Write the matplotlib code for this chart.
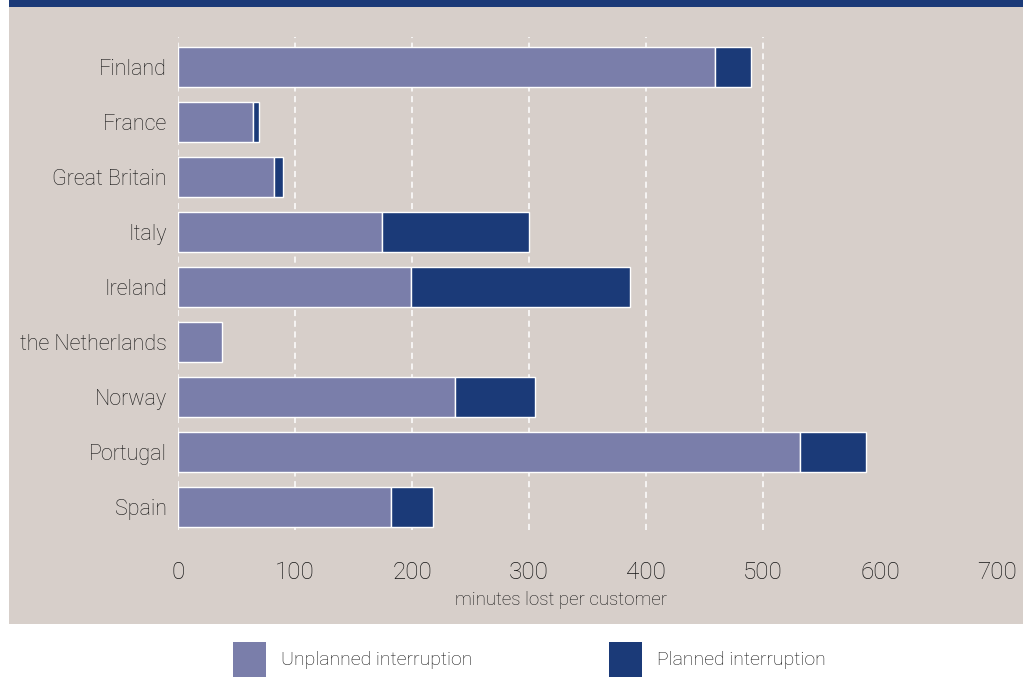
import matplotlib
matplotlib.use("Agg")
import matplotlib.pyplot as plt
from matplotlib.patches import Rectangle
import numpy as np

plt.rcParams["font.family"] = ["Roboto", "DejaVu Sans"]
plt.rcParams["font.weight"] = "light"

countries = ["Finland", "France", "Great Britain", "Italy", "Ireland",
             "the Netherlands", "Norway", "Portugal", "Spain"]
unplanned = [459, 64, 82, 174, 199, 38, 237, 532, 182]
planned = [31, 5, 8, 126, 187, 0, 68, 56, 36]
x_ticks = [0, 100, 200, 300, 400, 500, 600, 700]
grid_values = [0, 100, 200, 300, 400, 500]

PANEL = "#d7cfca"
LIGHT = "#7a7eaa"
DARK = "#1b3a78"
TEXT = "#141414"

W, H = 1030, 678
fig = plt.figure(figsize=(W / 100, H / 100), dpi=100)
fig.patch.set_facecolor("white")

# background panel, top band and legend swatches in pixel coordinates
bg = fig.add_axes([0, 0, 1, 1], zorder=-1)
bg.set_xlim(0, W)
bg.set_ylim(H, 0)
bg.axis("off")
bg.add_patch(Rectangle((9, 7), 1014, 617, facecolor=PANEL, edgecolor="none"))
bg.add_patch(Rectangle((9, 0), 1014, 7, facecolor=DARK, edgecolor="none"))
bg.add_patch(Rectangle((233, 642), 33, 35, facecolor=LIGHT, edgecolor="none"))
bg.add_patch(Rectangle((609, 642), 33, 35, facecolor=DARK, edgecolor="none"))
bg.text(281, 660, "Unplanned interruption", ha="left", va="center",
        fontsize=14, color=TEXT)
bg.text(657, 660, "Planned interruption", ha="left", va="center",
        fontsize=14, color=TEXT)
bg.text(561, 600, "minutes lost per customer", ha="center", va="center",
        fontsize=13.5, color=TEXT)

ax = fig.add_axes([178 / W, 1 - 530 / H, 819 / W, 493 / H])
ax.set_facecolor("none")
for s in ax.spines.values():
    s.set_visible(False)

y = np.arange(len(countries))
for g in grid_values:
    ax.axvline(g, color="white", linestyle=(0, (4, 3)), linewidth=1.1, zorder=1)

ax.barh(y, unplanned, height=0.72, color=LIGHT, edgecolor="white",
        linewidth=1.0, zorder=2)
has_planned = [p > 0 for p in planned]
ax.barh(y[has_planned], np.array(planned)[has_planned],
        left=np.array(unplanned)[has_planned],
        height=0.72, color=DARK, edgecolor="white", linewidth=1.0, zorder=2)

ax.set_xlim(0, 700)
ax.set_ylim(8.42, -0.55)
ax.set_yticks(y)
ax.set_yticklabels(countries, fontsize=15.5, color=TEXT)
ax.set_xticks(x_ticks)
ax.set_xticklabels([str(t) for t in x_ticks], fontsize=17.5, color=TEXT)
ax.tick_params(axis="both", length=0)
ax.tick_params(axis="x", pad=22)
ax.tick_params(axis="y", pad=8)

fig.savefig("out.png", dpi=100)
